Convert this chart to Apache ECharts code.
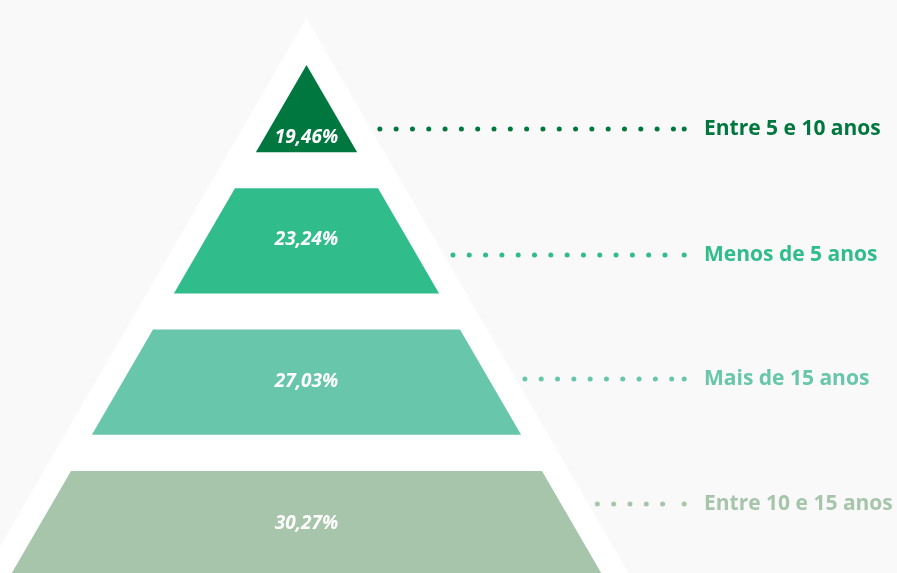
<!DOCTYPE html>
<html>
<head>
<meta charset="utf-8">
<script src="https://cdn.jsdelivr.net/npm/echarts@6/dist/echarts.min.js"></script>
<style>
html,body{margin:0;padding:0;background:#f9f9f9;}
#chart{width:897px;height:573px;}
</style>
</head>
<body>
<div id="chart"></div>
<script>
// ---- data ----
const categories = ['Entre 5 e 10 anos', 'Menos de 5 anos', 'Mais de 15 anos', 'Entre 10 e 15 anos'];
const values = [19.46, 23.24, 27.03, 30.27];

// ---- styles ----
const colors = ['#00773f', '#30bc8b', '#68c6aa', '#a6c5aa'];

// ---- layout (axis units) ----
const apexY = 0.127;          // apex of colored pyramid
const whiteApexY = -0.205;    // apex of white backdrop pyramid
const slope = 0.2732;         // half-width growth per y-unit
const sliceH = 0.745;         // slice height
const pctOffset = [0.644, 0.366, 0.371, 0.376];
const rowOffset = [0.58, 0.472, 0.350, 0.234];
const dotEndX = 1.259;
const textX = 1.325;
const yMax = 3.7226;

function fmt(v) { return v.toFixed(2).replace('.', ',') + '%'; }

const chart = echarts.init(document.getElementById('chart'));

function halfW(y, a) { return Math.max(0, slope * (y - a)); }

const option = {
  backgroundColor: '#f9f9f9',
  animation: false,
  grid: { left: 6.5, width: 600, top: 47, bottom: 0 },
  xAxis: { type: 'value', min: -1, max: 1, show: false },
  yAxis: { type: 'value', min: 0, max: yMax, inverse: true, show: false },
  series: [
    {
      type: 'custom',
      z: 1,
      data: [[0]],
      renderItem: function (params, api) {
        const a = api.coord([0, whiteApexY]);
        const yb = 4.6;
        const l = api.coord([-halfW(yb, whiteApexY), yb]);
        const r = api.coord([halfW(yb, whiteApexY), yb]);
        return { type: 'polygon', shape: { points: [a, r, l] }, style: { fill: '#ffffff' } };
      }
    },
    {
      type: 'custom',
      z: 2,
      data: values.map((v, i) => [i, v]),
      renderItem: function (params, api) {
        const i = params.dataIndex;
        const lvl = api.value(0);
        const v = api.value(1);
        const yTop = Math.max(lvl, apexY);
        const yBot = lvl + sliceH;
        const pts = [
          api.coord([-halfW(yTop, apexY), yTop]),
          api.coord([halfW(yTop, apexY), yTop]),
          api.coord([halfW(yBot, apexY), yBot]),
          api.coord([-halfW(yBot, apexY), yBot])
        ];
        const pc = api.coord([0, lvl + pctOffset[i]]);
        const ry = lvl + rowOffset[i];
        const ds = api.coord([halfW(ry, whiteApexY) + 0.03, ry]);
        const de = api.coord([dotEndX, ry]);
        const tp = api.coord([textX, ry]);
        const c = colors[i];
        return {
          type: 'group',
          children: [
            { type: 'polygon', shape: { points: pts }, style: { fill: c } },
            {
              type: 'text', x: pc[0], y: pc[1],
              style: {
                text: fmt(v), fill: '#ffffff', align: 'center', verticalAlign: 'middle',
                font: 'italic bold 19px "Open Sans"'
              }
            },
            {
              type: 'line', shape: { x1: ds[0], y1: ds[1], x2: de[0] - 9, y2: de[1] },
              style: { stroke: c, lineWidth: 5, lineDash: [0.01, 16.3], lineCap: 'round' }
            },
            { type: 'circle', shape: { cx: de[0], cy: de[1], r: 2.5 }, style: { fill: c } },
            {
              type: 'text', x: tp[0], y: tp[1],
              style: {
                text: categories[i], fill: c, align: 'left', verticalAlign: 'middle',
                font: 'bold 21px "Open Sans"'
              }
            }
          ]
        };
      }
    }
  ]
};
chart.setOption(option);
</script>
</body>
</html>
